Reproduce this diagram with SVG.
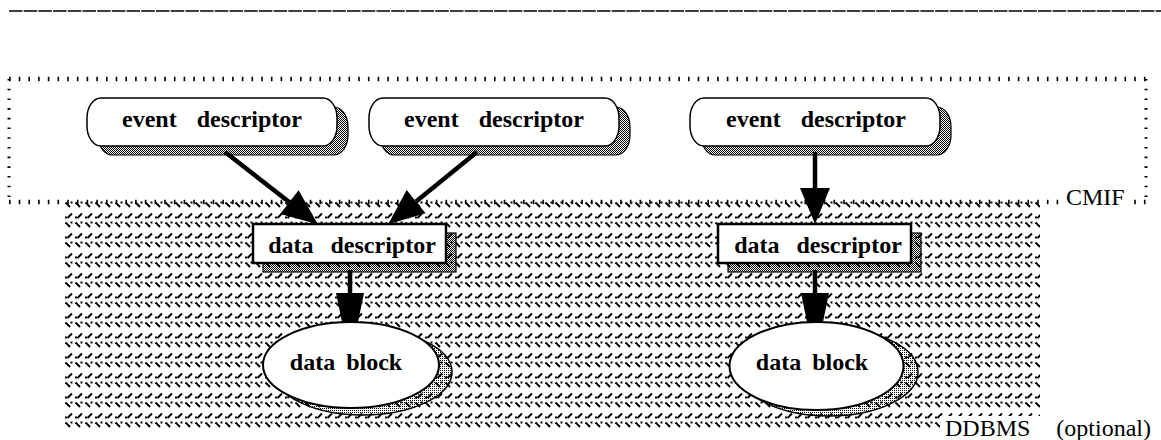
<svg xmlns="http://www.w3.org/2000/svg" width="1161" height="440" viewBox="0 0 1161 440">
<style>
.lbl{font-family:'Liberation Serif','Times New Roman',Times,serif;font-weight:bold;font-size:24px;fill:#000;text-anchor:middle}
.cap{font-family:'Liberation Serif','Times New Roman',Times,serif;font-size:24px;fill:#000}
.evt{fill:#fff;stroke:#000;stroke-width:1.5}
.evs{fill:url(#chk);stroke:#000;stroke-width:1.2}
.dd{fill:#fff;stroke:#000;stroke-width:2.5}
.dds{fill:url(#chk);stroke:#000;stroke-width:1.2}
.db{fill:#fff;stroke:#000;stroke-width:2}
.dbs{fill:url(#dots);stroke:#000;stroke-width:1.5}
.conn{stroke:#000;stroke-width:4.5;fill:none}
.dot{stroke:#000;fill:none}
</style>
<defs>
<pattern id="chk" patternUnits="userSpaceOnUse" width="2" height="2"><rect width="1" height="1"/><rect x="1" y="1" width="1" height="1"/></pattern>
<pattern id="dots" patternUnits="userSpaceOnUse" width="2" height="2"><rect width="1" height="1"/></pattern>
<pattern id="ddb" patternUnits="userSpaceOnUse" x="65" y="201" width="10" height="20">
<path d="M0.5,1.5 L5,6" stroke="#000" stroke-width="1.9"/>
<rect x="5.5" y="0.5" width="2" height="2"/>
<path d="M2.5,17 L7,12.5" stroke="#000" stroke-width="1.9"/>
<rect x="0" y="15.5" width="2" height="2"/>
</pattern>
<marker id="ah" markerUnits="userSpaceOnUse" markerWidth="40" markerHeight="32" refX="0" refY="15" orient="auto" overflow="visible"><path d="M0,0 L36,15 L0,30 z" fill="#000"/></marker>
<marker id="ah2" markerUnits="userSpaceOnUse" markerWidth="32" markerHeight="30" refX="0" refY="14" orient="auto" overflow="visible"><path d="M0,0 L29,6 L29,22 L0,28 z" fill="#000"/></marker>
</defs>
<rect width="1161" height="440" fill="#fff"/>
<line x1="9" y1="11" x2="1161" y2="11" stroke="#000" stroke-width="1.3" stroke-dasharray="13.5 1.2"/>
<g id="cmif">
<line class="dot" x1="9" y1="79" x2="1146" y2="79" stroke-width="4.5" stroke-dasharray="1.6 8.1"/>
<line class="dot" x1="9" y1="202" x2="1146" y2="202" stroke-width="4.5" stroke-dasharray="1.6 8.1"/>
<line class="dot" x1="9" y1="79" x2="9" y2="204" stroke-width="3" stroke-dasharray="1.6 8.1"/>
<line class="dot" x1="1146" y1="79" x2="1146" y2="204" stroke-width="3" stroke-dasharray="1.6 8.1"/>
</g>
<g id="ddbms">
<rect x="65" y="201" width="975" height="227" fill="url(#ddb)"/>
</g>
<rect x="1063" y="186" width="70" height="22" fill="#fff"/>
<text class="cap" x="1066" y="205" font-family="Liberation Serif, serif">CMIF</text>
<rect x="940" y="416" width="221" height="24" fill="#fff"/>
<text class="cap" x="945" y="436" style="word-spacing:20px" font-family="Liberation Serif, serif">DDBMS (optional)</text>
<g id="connectors">
<line class="conn" x1="225" y1="152" x2="289.4" y2="202.2" marker-end="url(#ah)"/>
<line class="conn" x1="477" y1="152" x2="416.1" y2="201.6" marker-end="url(#ah)"/>
<line class="conn" x1="815" y1="152" x2="815" y2="188" marker-end="url(#ah)"/>
<line class="conn" x1="350" y1="270" x2="350" y2="293" marker-end="url(#ah2)"/>
<line class="conn" x1="815" y1="270" x2="815" y2="293" marker-end="url(#ah2)"/>
</g>
<g id="event1">
<rect class="evs" x="98" y="107" width="250" height="48" rx="14" ry="20"/>
<rect class="evt" x="87" y="98" width="250" height="48" rx="14" ry="20"/>
<text class="lbl" x="212" y="127" style="word-spacing:14px">event descriptor</text>
</g>
<g id="event2">
<rect class="evs" x="380" y="107" width="250" height="48" rx="14" ry="20"/>
<rect class="evt" x="369" y="98" width="250" height="48" rx="14" ry="20"/>
<text class="lbl" x="494" y="127" style="word-spacing:14px">event descriptor</text>
</g>
<g id="event3">
<rect class="evs" x="701" y="107" width="250" height="48" rx="14" ry="20"/>
<rect class="evt" x="690" y="98" width="250" height="48" rx="14" ry="20"/>
<text class="lbl" x="816" y="127" style="word-spacing:14px">event descriptor</text>
</g>
<g id="datadesc1">
<rect class="dds" x="263" y="233" width="193" height="39"/>
<rect class="dd" x="253" y="224" width="193" height="39"/>
<text class="lbl" x="352" y="253" style="word-spacing:11px">data descriptor</text>
</g>
<g id="datadesc2">
<rect class="dds" x="728" y="233" width="193" height="39"/>
<rect class="dd" x="718" y="224" width="193" height="39"/>
<text class="lbl" x="818" y="253" style="word-spacing:11px">data descriptor</text>
</g>
<g id="datablock1">
<ellipse class="dbs" cx="363" cy="372" rx="89" ry="43"/>
<ellipse class="db" cx="351" cy="365" rx="88" ry="43"/>
<text class="lbl" x="346" y="370" style="word-spacing:5px">data block</text>
</g>
<g id="datablock2">
<ellipse class="dbs" cx="829" cy="372" rx="89" ry="44"/>
<ellipse class="db" cx="816.5" cy="366" rx="87" ry="44"/>
<text class="lbl" x="812" y="370" style="word-spacing:5px">data block</text>
</g>
</svg>
